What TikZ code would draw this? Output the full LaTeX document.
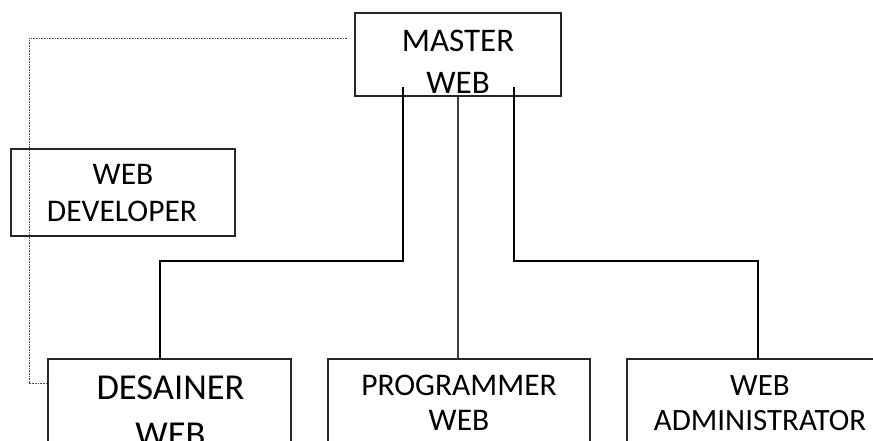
\documentclass[tikz,border=0pt]{standalone}
\usepackage{fontspec}
\setmainfont{Carlito}
\begin{document}
\begin{tikzpicture}[x=1pt,y=-1pt,
  box/.style={draw=black!85, line width=1.2pt, rectangle, inner sep=0pt, fill=none},
  txt/.style={anchor=base, inner sep=0pt, text=black},
  conn/.style={draw=black, line width=2pt},
  thinconn/.style={draw=black!75, line width=1.2pt},
  dotline/.style={draw=black!70, line width=0.8pt, dash pattern=on 0.8pt off 0.8pt}]
\useasboundingbox (0,0) rectangle (873,441);
\clip (0,0) rectangle (873,441);
% boxes
\node[box, minimum width=206, minimum height=83] (master) at (458,54.5) {};
\node[box, minimum width=224, minimum height=87] (developer) at (123,192.5) {};
\node[box, minimum width=243, minimum height=111] (desainer) at (169.5,414.5) {};
\node[box, minimum width=262, minimum height=111] (programmer) at (459,414.5) {};
\node[box, minimum width=266, minimum height=111] (admin) at (760,414.5) {};
% texts
\node[txt, font=\fontsize{33}{40}\selectfont] (masterA) at (458,51.7) {MASTER};
\node[txt, font=\fontsize{33}{40}\selectfont] (masterB) at (458,94) {WEB};
\node[txt, font=\fontsize{31.5}{38}\selectfont] (devA) at (123,184) {WEB};
\node[txt, font=\fontsize{31.5}{38}\selectfont] (devB) at (122,221.7) {DEVELOPER};
\node[txt, font=\fontsize{36.5}{44}\selectfont] (desA) at (170.5,399) {DESAINER};
\node[txt, font=\fontsize{36.5}{44}\selectfont] (desB) at (170.5,446.5) {WEB};
\node[txt, font=\fontsize{31.5}{38}\selectfont] (progA) at (459,395) {PROGRAMMER};
\node[txt, font=\fontsize{31.5}{38}\selectfont] (progB) at (459,430) {WEB};
\node[txt, font=\fontsize{31}{37}\selectfont] (admA) at (760,395) {WEB};
\node[txt, font=\fontsize{31}{37}\selectfont] (admB) at (760,430) {ADMINISTRATOR};
% connector points
\coordinate (mL) at (403,87);
\coordinate (jL) at (160,261);
\coordinate (dIn) at (160,359);
\coordinate (mR) at (514,87);
\coordinate (jR) at (758,261);
\coordinate (aIn) at (758,359);
\coordinate (dS) at (347,38);
\coordinate (dC) at (29,383);
\coordinate (dE) at (48,383);
% connectors
\draw[conn] (mL) |- (jL) -- (dIn);
\draw[conn] (mR) |- (jR) -- (aIn);
\draw[thinconn] (master.south) -- (master.south |- programmer.north);
\draw[dotline] (dS) -| (dC) -- (dE);
\end{tikzpicture}
\end{document}
